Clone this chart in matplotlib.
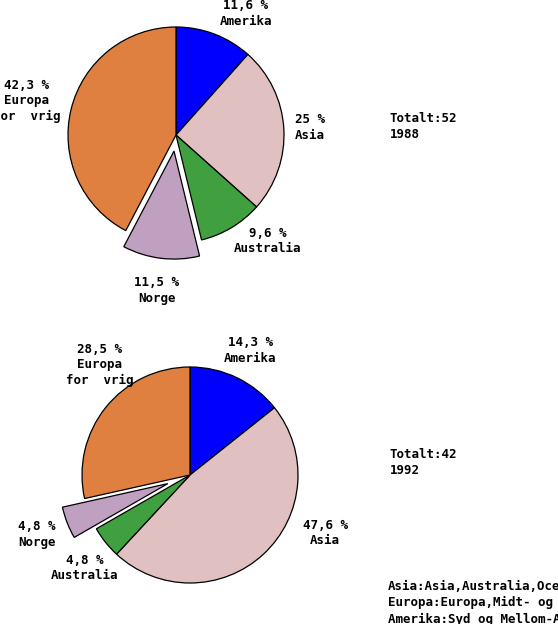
import numpy as np
import matplotlib.pyplot as plt

regions = ['Amerika', 'Asia', 'Australia', 'Norge', 'Europa\nfor  vrig']
share_1988 = [11.6, 25.0, 9.6, 11.5, 42.3]
share_1992 = [14.3, 47.6, 4.8, 4.8, 28.5]
totals = [('Totalt:52', '1988'), ('Totalt:42', '1992')]
notes = ['Asia:Asia,Australia,Oceania',
         'Europa:Europa,Midt- og Sør-Amerika',
         'Amerika:Syd og Mellom-Amerika']

colors = ['#0000ff', '#e0c0c0', '#40a040', '#c0a0c0', '#e08040']
font = ['DejaVu Sans Mono']

fig = plt.figure(figsize=(5.58, 6.24), dpi=100)
ax = fig.add_axes([0, 0, 1, 1])

# pixel-like coordinates, y upwards
R = 108
pies = [
    (share_1988, (176, 489), [0, 0, 0, 0.15, 0], [(-9, 1.30), (0, 1.24), (10, 1.30), (0, 1.30), (1, 1.42)]),
    (share_1992, (190, 149), [0, 0, 0, 0.22, 0], [(0, 1.28), (24, 1.36), (3, 1.30), (0, 1.30), (-12, 1.32)]),
]

for vals, c, expl, lab in pies:
    wedges, _ = ax.pie(vals, colors=colors, startangle=90, counterclock=False,
                       explode=[e * R for e in expl], center=c, radius=R,
                       wedgeprops=dict(edgecolor='black', linewidth=0.9))
    for w, v, name, ex, (da, d) in zip(wedges, vals, regions, expl, lab):
        mid = np.deg2rad((w.theta1 + w.theta2) / 2 + da)
        dist = (d + ex) * R
        txt = ('%.1f' % v).replace('.', ',').replace(',0', '') + ' %\n' + name
        ax.text(c[0] + dist * np.cos(mid), c[1] + dist * np.sin(mid), txt,
                ha='center', va='center', fontsize=9, family=font,
                weight='bold', linespacing=1.25)

ax.set_xlim(0, 558)
ax.set_ylim(0, 624)
ax.set_aspect('equal')
ax.axis('off')

for (t, yr), y in zip(totals, [512, 176]):
    ax.text(390, y, t + '\n' + yr, ha='left', va='top', fontsize=9,
            family=font, weight='bold', linespacing=1.25)

for i, n in enumerate(notes):
    ax.text(388, 38 - i * 16.5, n, ha='left', va='center', fontsize=9,
            family=font, weight='bold')

fig.savefig('out.png', dpi=100)
